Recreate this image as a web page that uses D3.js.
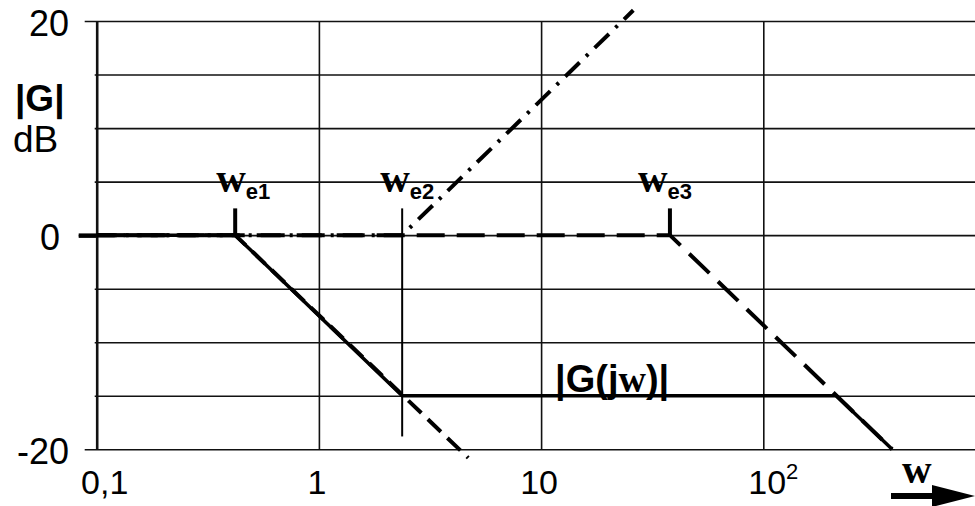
<!DOCTYPE html>
<html><head><meta charset="utf-8">
<script src="https://cdn.jsdelivr.net/npm/d3@7"></script>
<style>body{margin:0;background:#fff}svg{display:block}</style>
</head><body><svg id="c" width="975" height="506"></svg>
<script>
// ---- data ----
const yTicks = [-20, -15, -10, -5, 0, 5, 10, 15, 20];
const yLabeled = [20, 0, -20];
const yTickText = ["20", "0", "-20"];
const xTicks = [0.1, 1, 10, 100];
const xTickText = ["0,1", "1", "10", "10"];
const xTickSup = ["", "", "", "2"];
const breakFreqs = [0.42, 2.37, 38];
const breakNames = ["e1", "e2", "e3"];
// resulting asymptotic magnitude |G(jw)|
const magW = [0.1, 0.42, 2.37, 213, 380];
const magDb = [0, 0, -15, -15, -20];
// individual component asymptotes
const comp1W = [0.1, 0.42, 4.7];  const comp1Db = [0, 0, -20.8];
const comp2W = [0.1, 2.37, 26];   const comp2Db = [0, 0, 21];
const comp3W = [0.1, 38, 380];    const comp3Db = [0, 0, -20];

// ---- layout ----
const svg = d3.select("#c");
const W = 975;
const x = d3.scaleLog().domain([0.1, 1000]).range([96.7, 985.5]);
const y = d3.scaleLinear().domain([-20, 20]).range([449.3, 21]);
const sans = "'Liberation Sans', Arial, sans-serif";
const serif = "'Liberation Serif', 'Times New Roman', serif";

// horizontal grid via axis
const gy = svg.append("g").attr("transform", `translate(${x(0.1)},0)`)
  .call(d3.axisLeft(y).tickValues(yTicks).tickSize(-(W - x(0.1))).tickSizeOuter(0).tickFormat(""));
gy.select(".domain").remove();
gy.selectAll(".tick line")
  .attr("x1", d => d === 0 ? -18 : (Math.abs(d) === 20 ? -12 : -2))
  .attr("stroke", "#111").attr("stroke-width", d => d === 0 ? 1.8 : 1.6);
gy.selectAll(".tick").filter(d => d === 0).append("line")
  .attr("x1", -18).attr("x2", 0).attr("stroke", "#000").attr("stroke-width", 4.5);

// vertical grid via axis
const gx = svg.append("g").attr("transform", `translate(0,${y(-20)})`)
  .call(d3.axisBottom(x).tickValues(xTicks).tickSize(-(y(-20) - y(20))).tickSizeOuter(0).tickFormat(""));
gx.select(".domain").remove();
gx.selectAll(".tick line").attr("stroke", "#111").attr("stroke-width", d => d === 0.1 ? 2.6 : 1.6);

// y tick labels
yLabeled.forEach((v, i) => {
  svg.append("text").attr("x", v === 0 ? 60 : 69).attr("y", y(v) + 15)
    .attr("text-anchor", "end").attr("font-family", sans).attr("font-size", 36)
    .text(yTickText[i]);
});
// x tick labels
xTicks.forEach((v, i) => {
  const t = svg.append("text").attr("x", x(v) + (i === 0 ? 8 : (i === 3 ? 10 : -2))).attr("y", 494)
    .attr("text-anchor", "middle").attr("font-family", sans).attr("font-size", 34);
  t.append("tspan").text(xTickText[i]);
  if (xTickSup[i]) t.append("tspan").attr("font-size", 22).attr("dy", -15).text(xTickSup[i]);
});

// axis title
svg.append("text").attr("x", 15).attr("y", 111).attr("font-family", sans).attr("font-weight", "bold")
  .attr("font-size", 37).text("|G|");
svg.append("text").attr("x", 13).attr("y", 152).attr("font-family", sans)
  .attr("font-size", 37).text("dB");

const line = d3.line().x(d => x(d[0])).y(d => y(d[1]));
const zip = (a, b) => a.map((v, i) => [v, b[i]]);

// component asymptotes
svg.append("path").attr("d", line(zip(comp1W, comp1Db))).attr("fill", "none")
  .attr("stroke", "#000").attr("stroke-width", 4).attr("stroke-dasharray", "18,9");
svg.append("path").attr("d", line(zip(comp2W, comp2Db))).attr("fill", "none")
  .attr("stroke", "#000").attr("stroke-width", 4).attr("stroke-dasharray", "20,9,3,9");
svg.append("path").attr("d", line(zip(comp3W, comp3Db))).attr("fill", "none")
  .attr("stroke", "#000").attr("stroke-width", 4).attr("stroke-dasharray", "28,12");

// resulting magnitude
svg.append("path").attr("d", line(zip(magW, magDb))).attr("fill", "none")
  .attr("stroke", "#000").attr("stroke-width", 3.5).attr("stroke-linejoin", "miter");

// break frequency markers and labels
const labelShift = [-19, -22, -32];
breakFreqs.forEach((w, i) => {
  const bottom = i === 1 ? y(-18.8) : y(0);
  svg.append("line").attr("x1", x(w)).attr("x2", x(w)).attr("y1", y(2.5)).attr("y2", bottom)
    .attr("stroke", "#000").attr("stroke-width", i === 1 ? 2 : 4);
  const t = svg.append("text").attr("x", x(w) + labelShift[i]).attr("y", 192).attr("font-weight", "bold");
  t.append("tspan").attr("font-family", serif).attr("font-size", 41).text("w");
  t.append("tspan").attr("font-family", sans).attr("font-size", 22).attr("dy", 7).text(breakNames[i]);
});

// curve label
const gl = svg.append("text").attr("x", x(10) + 14).attr("y", 392).attr("font-family", sans)
  .attr("font-weight", "bold").attr("font-size", 38);
gl.append("tspan").text("|G(j");
gl.append("tspan").attr("font-family", serif).attr("font-size", 38).text("w");
gl.append("tspan").text(")|");

// frequency arrow
svg.append("text").attr("x", 902).attr("y", 483).attr("font-family", serif).attr("font-weight", "bold")
  .attr("font-size", 41).text("w");
svg.append("line").attr("x1", 891).attr("x2", 934).attr("y1", 496).attr("y2", 496)
  .attr("stroke", "#000").attr("stroke-width", 6);
svg.append("path").attr("d", d3.line()([[932, 485], [975, 496], [932, 507]])).attr("fill", "#000");
</script></body></html>
